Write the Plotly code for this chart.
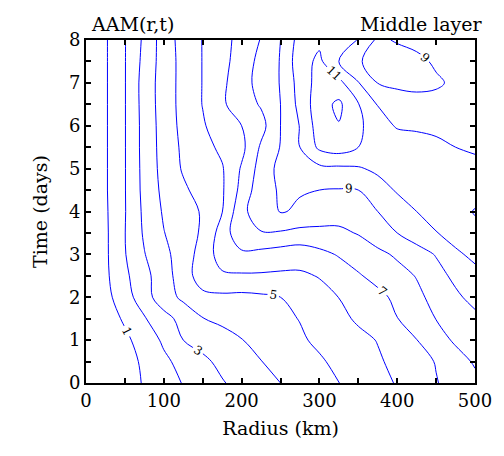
import plotly.graph_objects as go

radius_km = [0, 25, 50, 75, 100, 125, 150, 175, 200, 225, 250, 275, 300, 325, 350, 375, 400, 425, 450, 475, 500]
time_days = [0, 0.5, 1, 1.5, 2, 2.5, 3, 3.5, 4, 4.5, 5, 5.5, 6, 6.5, 7, 7.5, 8]

aam_t00 = [0, 0.35, 0.69, 1.06, 1.56, 2.05, 2.49, 2.93, 3.30, 3.65, 4.00, 4.33, 4.66, 4.99, 5.34, 5.70, 6.07, 6.51, 6.95, 7.35, 7.76]
aam_t05 = [0, 0.36, 0.71, 1.13, 1.79, 2.33, 2.81, 3.23, 3.61, 3.98, 4.29, 4.59, 4.89, 5.21, 5.55, 5.88, 6.25, 6.64, 7.05, 7.61, 8.11]
aam_t10 = [0, 0.40, 0.81, 1.39, 2.17, 3.00, 3.32, 3.65, 3.97, 4.28, 4.58, 4.88, 5.17, 5.45, 5.74, 6.04, 6.51, 6.98, 7.60, 8.14, 8.53]
aam_t15 = [0, 0.54, 1.13, 1.91, 2.65, 3.33, 3.97, 4.20, 4.40, 4.61, 4.81, 5.03, 5.39, 5.75, 6.14, 6.56, 6.98, 7.50, 8.02, 8.39, 8.77]
aam_t20 = [0, 0.71, 1.54, 2.60, 3.55, 4.20, 4.75, 4.80, 4.75, 4.84, 5.00, 5.34, 5.68, 6.01, 6.39, 6.76, 7.20, 7.77, 8.31, 8.82, 9.30]
aam_t25 = [0, 0.81, 1.79, 2.71, 3.55, 4.52, 5.50, 5.85, 5.88, 5.88, 5.85, 5.85, 6.05, 6.48, 6.91, 7.29, 7.66, 8.05, 8.66, 9.22, 9.70]
aam_t30 = [0, 0.83, 1.95, 2.96, 3.73, 4.50, 5.39, 6.46, 6.80, 6.70, 6.52, 6.44, 6.73, 7.08, 7.42, 7.77, 8.14, 8.59, 9.06, 9.82, 10.24]
aam_t35 = [0, 0.83, 1.98, 3.13, 3.97, 4.52, 5.14, 6.43, 7.77, 7.94, 7.90, 7.70, 7.75, 7.80, 8.06, 8.53, 9.00, 9.48, 9.96, 10.40, 10.80]
aam_t40 = [0, 0.86, 1.95, 3.21, 4.11, 4.58, 5.10, 5.97, 7.73, 8.60, 9.05, 8.90, 8.57, 8.43, 8.47, 9.00, 9.50, 10.00, 10.35, 10.70, 11.05]
aam_t45 = [0, 0.89, 1.96, 3.29, 4.24, 4.84, 5.37, 5.88, 7.30, 8.63, 9.10, 9.05, 9.00, 8.95, 9.00, 9.57, 10.10, 10.40, 10.60, 10.70, 10.70]
aam_t50 = [0, 0.89, 1.96, 3.32, 4.34, 5.10, 5.50, 5.92, 7.10, 8.40, 9.30, 9.70, 9.75, 9.80, 9.90, 10.20, 10.40, 10.40, 10.40, 10.30, 10.20]
aam_t55 = [0, 0.89, 1.96, 3.35, 4.38, 5.18, 5.68, 6.20, 6.74, 8.14, 9.04, 10.00, 11.20, 11.50, 11.00, 10.80, 10.60, 10.40, 10.20, 10.00, 9.90]
aam_t60 = [0, 0.89, 1.96, 3.35, 4.42, 5.28, 5.90, 6.50, 7.00, 7.65, 9.00, 10.04, 11.50, 11.95, 11.20, 10.45, 9.90, 9.85, 9.80, 9.75, 9.70]
aam_t65 = [0, 0.89, 1.96, 3.39, 4.46, 5.33, 6.03, 6.86, 7.50, 8.10, 9.00, 10.30, 11.60, 12.20, 11.05, 9.95, 9.60, 9.40, 9.35, 9.35, 9.35]
aam_t70 = [0, 0.89, 1.96, 3.41, 4.46, 5.33, 6.03, 6.80, 7.60, 8.35, 9.05, 10.40, 11.40, 11.30, 10.05, 8.98, 8.75, 8.70, 8.85, 9.20, 9.35]
aam_t75 = [0, 0.89, 1.96, 3.30, 4.45, 5.33, 6.03, 6.70, 7.45, 8.30, 9.05, 10.60, 11.20, 10.00, 9.10, 8.60, 8.50, 8.75, 9.15, 9.30, 9.40]
aam_t80 = [0, 0.89, 1.96, 3.20, 4.48, 5.38, 6.03, 6.65, 7.35, 8.05, 9.00, 10.40, 10.80, 10.60, 9.95, 8.80, 9.10, 9.30, 9.40, 9.45, 9.50]

aam = [aam_t00, aam_t05, aam_t10, aam_t15, aam_t20, aam_t25, aam_t30, aam_t35, aam_t40,
       aam_t45, aam_t50, aam_t55, aam_t60, aam_t65, aam_t70, aam_t75, aam_t80]

x_ticks = [0, 100, 200, 300, 400, 500]
y_ticks = [0, 1, 2, 3, 4, 5, 6, 7, 8]

FONT = "DejaVu Serif"
blue = [[0, "#0000ff"], [1, "#0000ff"]]

fig = go.Figure()
# even levels, no labels
fig.add_trace(go.Contour(
    x=radius_km, y=time_days, z=aam,
    contours=dict(start=2, end=12, size=2, coloring="lines", showlabels=False),
    colorscale=blue, showscale=False, line=dict(width=1, smoothing=1.0),
    hoverinfo="skip"))
# odd levels, labelled
fig.add_trace(go.Contour(
    x=radius_km, y=time_days, z=aam,
    contours=dict(start=1, end=11, size=2, coloring="lines", showlabels=True,
                  labelfont=dict(family=FONT, size=12, color="black")),
    colorscale=blue, showscale=False, line=dict(width=1, smoothing=1.0),
    hoverinfo="skip"))

axis_common = dict(showline=True, linecolor="black", linewidth=2, mirror="ticks",
                   ticks="inside", ticklen=5, tickwidth=1.5, tickcolor="black",
                   showgrid=False, zeroline=False,
                   tickfont=dict(family=FONT, size=18, color="black"))

fig.update_xaxes(range=[0, 500], tickvals=x_ticks, ticktext=[str(v) for v in x_ticks],
                 minor=dict(ticks="inside", ticklen=5, tickwidth=1.5, tickcolor="black", dtick=50, showgrid=False),
                 title=dict(text="Radius (km)", font=dict(family=FONT, size=19, color="black"), standoff=12),
                 **axis_common)
fig.update_yaxes(range=[0, 8], tickvals=y_ticks, ticktext=[str(v) for v in y_ticks],
                 minor=dict(ticks="inside", ticklen=5, tickwidth=1.5, tickcolor="black", dtick=0.5, showgrid=False),
                 title=dict(text="Time (days)", font=dict(family=FONT, size=19, color="black"), standoff=16),
                 **axis_common)

fig.add_annotation(text="AAM(r,t)", xref="paper", yref="paper", x=0.0, y=1.0,
                   xanchor="left", yanchor="bottom", yshift=3, xshift=3, showarrow=False,
                   font=dict(family=FONT, size=19, color="black"))
fig.add_annotation(text="Middle layer", xref="paper", yref="paper", x=1.0, y=1.0,
                   xanchor="right", yanchor="bottom", yshift=3, xshift=10, showarrow=False,
                   font=dict(family=FONT, size=19, color="black"))

fig.update_layout(width=504, height=456, margin=dict(l=86, r=24, t=40, b=73),
                  paper_bgcolor="white", plot_bgcolor="white", showlegend=False)

fig.write_html("out.html")
